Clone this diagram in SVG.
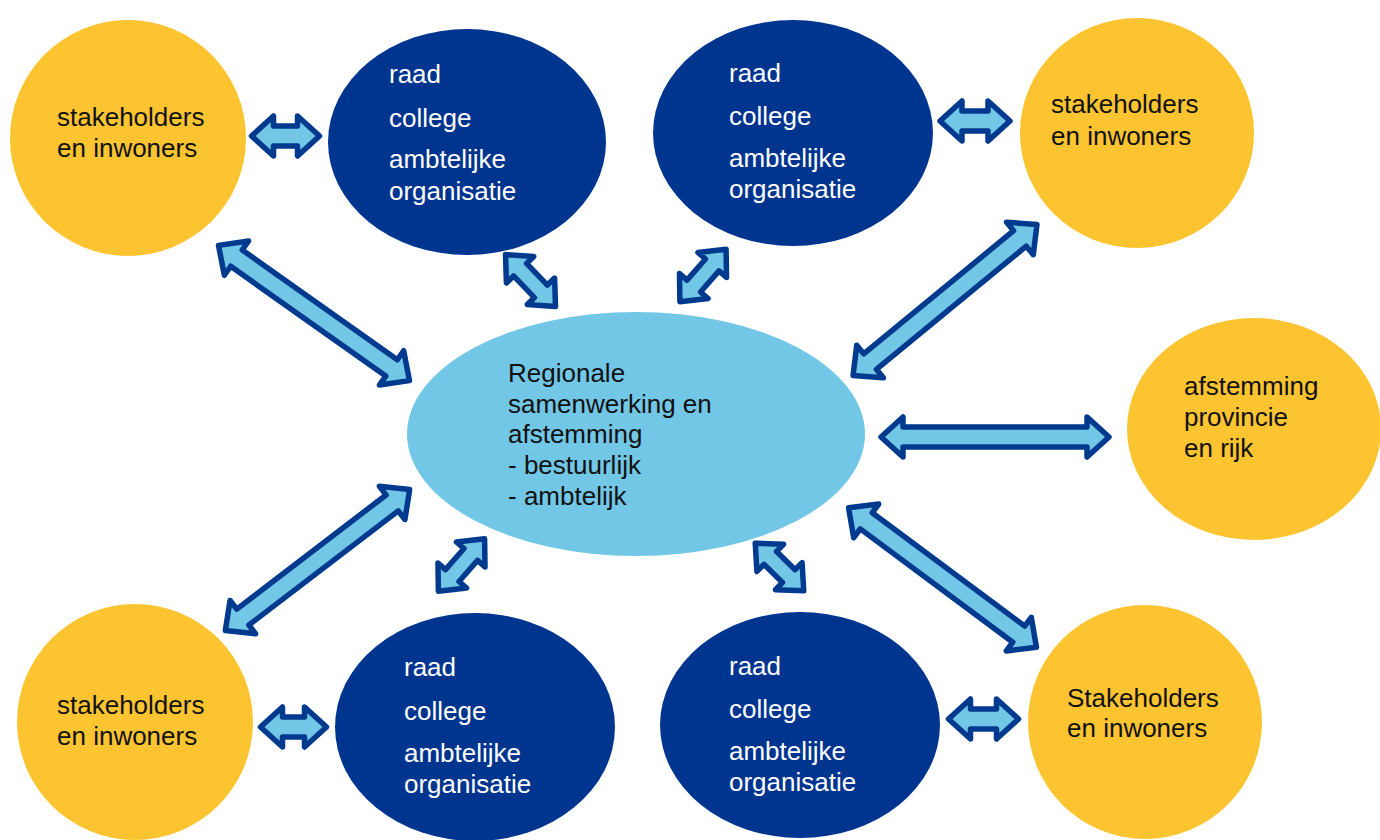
<svg xmlns="http://www.w3.org/2000/svg" width="1380" height="840" viewBox="0 0 1380 840">
  <style>
    .yellow { fill: #FCC430; }
    .dark { fill: #00358F; }
    .light { fill: #72C6E6; }
    .arrow { fill: #72C6E6; stroke: #003A8E; stroke-width: 5.5; stroke-linejoin: round; }
    text { font-family: "Liberation Sans", Arial, sans-serif; font-size: 26px; }
    .onDark { fill: #FFFFFF; }
    .onLight { fill: #111111; }
  </style>

  <rect width="1380" height="840" fill="#FFFFFF"/>

  <!-- double-headed connectors -->
  <g id="connectors">
    <!-- horizontal links -->
    <path class="arrow" transform="translate(285.5,136)" d="M-34 0 L-12 -20 L-12 -10 L12 -10 L12 -20 L34 0 L12 20 L12 10 L-12 10 L-12 20 Z"/>
    <path class="arrow" transform="translate(975,121)" d="M-35 0 L-13 -20 L-13 -10 L13 -10 L13 -20 L35 0 L13 20 L13 10 L-13 10 L-13 20 Z"/>
    <path class="arrow" transform="translate(995,437)" d="M-114 0 L-92 -20 L-92 -10 L92 -10 L92 -20 L114 0 L92 20 L92 10 L-92 10 L-92 20 Z"/>
    <path class="arrow" transform="translate(293.5,727)" d="M-33 0 L-11 -20 L-11 -10 L11 -10 L11 -20 L33 0 L11 20 L11 10 L-11 10 L-11 20 Z"/>
    <path class="arrow" transform="translate(983.5,719)" d="M-35 0 L-13 -20 L-13 -10 L13 -10 L13 -20 L35 0 L13 20 L13 10 L-13 10 L-13 20 Z"/>

    <!-- long diagonal links -->
    <path class="arrow" transform="translate(314,313) rotate(35.3)" d="M-117 0 L-95 -21 L-95 -10 L95 -10 L95 -21 L117 0 L95 21 L95 10 L-95 10 L-95 21 Z"/>
    <path class="arrow" transform="translate(945,300) rotate(-39.4)" d="M-119 0 L-97 -21 L-97 -10 L97 -10 L97 -21 L119 0 L97 21 L97 10 L-97 10 L-97 21 Z"/>
    <path class="arrow" transform="translate(317.5,560) rotate(-37.4)" d="M-116 0 L-94 -21 L-94 -10 L94 -10 L94 -21 L116 0 L94 21 L94 10 L-94 10 L-94 21 Z"/>
    <path class="arrow" transform="translate(942.5,577.5) rotate(36.6)" d="M-117 0 L-95 -21 L-95 -10 L95 -10 L95 -21 L117 0 L95 21 L95 10 L-95 10 L-95 21 Z"/>

    <!-- short diagonal links -->
    <path class="arrow" transform="translate(530.5,280.5) rotate(46)" d="M-36 0 L-15 -19 L-15 -9 L15 -9 L15 -19 L36 0 L15 19 L15 9 L-15 9 L-15 19 Z"/>
    <path class="arrow" transform="translate(703,275.5) rotate(-48.7)" d="M-35 0 L-14 -19 L-14 -9 L14 -9 L14 -19 L35 0 L14 19 L14 9 L-14 9 L-14 19 Z"/>
    <path class="arrow" transform="translate(461.5,565) rotate(-48.7)" d="M-35 0 L-14 -19 L-14 -9 L14 -9 L14 -19 L35 0 L14 19 L14 9 L-14 9 L-14 19 Z"/>
    <path class="arrow" transform="translate(779.5,567) rotate(44.5)" d="M-34 0 L-13 -19 L-13 -9 L13 -9 L13 -19 L34 0 L13 19 L13 9 L-13 9 L-13 19 Z"/>
  </g>

  <!-- central regional node -->
  <g id="regio">
    <ellipse class="light" cx="636" cy="434" rx="229" ry="122"/>
    <text class="onLight" x="508" y="382">Regionale</text>
    <text class="onLight" x="508" y="413">samenwerking en</text>
    <text class="onLight" x="508" y="443">afstemming</text>
    <text class="onLight" x="508" y="474">- bestuurlijk</text>
    <text class="onLight" x="508" y="505">- ambtelijk</text>
  </g>

  <!-- municipalities -->
  <g id="gemeente-linksboven">
    <ellipse class="dark" cx="467" cy="142" rx="139" ry="113"/>
    <text class="onDark" x="389" y="83">raad</text>
    <text class="onDark" x="389" y="127">college</text>
    <text class="onDark" x="389" y="168">ambtelijke</text>
    <text class="onDark" x="389" y="200">organisatie</text>
  </g>
  <g id="gemeente-rechtsboven">
    <ellipse class="dark" cx="793" cy="133" rx="140" ry="113"/>
    <text class="onDark" x="729" y="82">raad</text>
    <text class="onDark" x="729" y="125">college</text>
    <text class="onDark" x="729" y="167">ambtelijke</text>
    <text class="onDark" x="729" y="198">organisatie</text>
  </g>
  <g id="gemeente-linksonder">
    <ellipse class="dark" cx="475" cy="727" rx="140" ry="114"/>
    <text class="onDark" x="404" y="676">raad</text>
    <text class="onDark" x="404" y="720">college</text>
    <text class="onDark" x="404" y="762">ambtelijke</text>
    <text class="onDark" x="404" y="793">organisatie</text>
  </g>
  <g id="gemeente-rechtsonder">
    <ellipse class="dark" cx="800" cy="725" rx="140" ry="113"/>
    <text class="onDark" x="729" y="675">raad</text>
    <text class="onDark" x="729" y="718">college</text>
    <text class="onDark" x="729" y="760">ambtelijke</text>
    <text class="onDark" x="729" y="791">organisatie</text>
  </g>

  <!-- stakeholders -->
  <g id="stakeholders-linksboven">
    <ellipse class="yellow" cx="128" cy="138" rx="118" ry="118"/>
    <text class="onLight" x="57" y="126">stakeholders</text>
    <text class="onLight" x="57" y="157">en inwoners</text>
  </g>
  <g id="stakeholders-rechtsboven">
    <ellipse class="yellow" cx="1137" cy="133" rx="117" ry="115"/>
    <text class="onLight" x="1051" y="113">stakeholders</text>
    <text class="onLight" x="1051" y="145">en inwoners</text>
  </g>
  <g id="stakeholders-linksonder">
    <ellipse class="yellow" cx="135" cy="722" rx="118" ry="118"/>
    <text class="onLight" x="57" y="714">stakeholders</text>
    <text class="onLight" x="57" y="745">en inwoners</text>
  </g>
  <g id="stakeholders-rechtsonder">
    <ellipse class="yellow" cx="1145" cy="722" rx="117" ry="117"/>
    <text class="onLight" x="1067" y="707">Stakeholders</text>
    <text class="onLight" x="1067" y="737">en inwoners</text>
  </g>

  <!-- province and state -->
  <g id="provincie-rijk">
    <ellipse class="yellow" cx="1254" cy="429" rx="127" ry="111"/>
    <text class="onLight" x="1184" y="395">afstemming</text>
    <text class="onLight" x="1184" y="426">provincie</text>
    <text class="onLight" x="1184" y="457">en rijk</text>
  </g>
</svg>
